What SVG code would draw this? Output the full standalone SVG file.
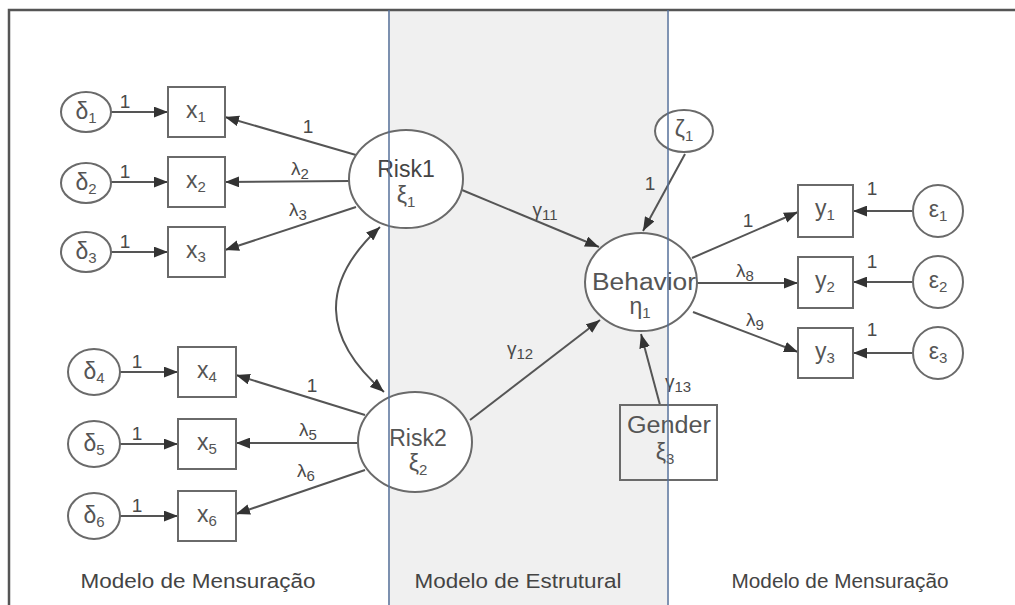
<svg xmlns="http://www.w3.org/2000/svg" width="1015" height="605" viewBox="0 0 1015 605">
<defs>
<style>
.n{fill:#fff;stroke:#6a6a6a;stroke-width:2}
.t{font-family:"Liberation Sans",Arial,sans-serif;fill:#555;font-size:23px;text-anchor:middle}
.l{font-family:"Liberation Sans",Arial,sans-serif;fill:#4a4a4a;font-size:19px;text-anchor:middle}
.b{font-family:"Liberation Sans",Arial,sans-serif;fill:#444;font-size:20px;text-anchor:middle}
.c line,.c path{stroke:#555;stroke-width:2;fill:none}
.s{font-size:15px}
</style>
<marker id="ah" viewBox="0 0 13 10" refX="13" refY="5" markerWidth="14" markerHeight="11" markerUnits="userSpaceOnUse" orient="auto-start-reverse">
<path d="M0,0 L13,5 L0,10 Z" fill="#333"/>
</marker>
</defs>
<rect width="1015" height="605" fill="#fff"/>
<rect x="388" y="11" width="279" height="594" fill="#f0f0f0"/>
<path d="M9,605 V10 H1015" fill="none" stroke="#555" stroke-width="2.5"/>

<g class="c">
<line x1="111" y1="112" x2="168" y2="112" marker-end="url(#ah)"/>
<line x1="111" y1="182" x2="168" y2="182" marker-end="url(#ah)"/>
<line x1="111" y1="252" x2="168" y2="252" marker-end="url(#ah)"/>
<line x1="120" y1="372" x2="178" y2="372" marker-end="url(#ah)"/>
<line x1="120" y1="444" x2="178" y2="444" marker-end="url(#ah)"/>
<line x1="120" y1="516" x2="178" y2="516" marker-end="url(#ah)"/>
<line x1="356" y1="155" x2="225" y2="117" marker-end="url(#ah)"/>
<line x1="350" y1="181" x2="225" y2="182" marker-end="url(#ah)"/>
<line x1="356" y1="207" x2="225" y2="250" marker-end="url(#ah)"/>
<line x1="365" y1="415" x2="236" y2="375" marker-end="url(#ah)"/>
<line x1="358" y1="443" x2="236" y2="443" marker-end="url(#ah)"/>
<line x1="365" y1="470" x2="236" y2="514" marker-end="url(#ah)"/>
<path d="M384,392 Q290,310 380,227" marker-start="url(#ah)" marker-end="url(#ah)"/>
<line x1="462" y1="190" x2="599" y2="247" marker-end="url(#ah)"/>
<line x1="470" y1="420" x2="600" y2="320" marker-end="url(#ah)"/>
<line x1="685" y1="154" x2="643" y2="231" marker-end="url(#ah)"/>
<line x1="660" y1="405" x2="641" y2="334" marker-end="url(#ah)"/>
<line x1="692" y1="258" x2="798" y2="212" marker-end="url(#ah)"/>
<line x1="697" y1="283" x2="798" y2="283" marker-end="url(#ah)"/>
<line x1="693" y1="312" x2="798" y2="352" marker-end="url(#ah)"/>
<line x1="912" y1="211" x2="853" y2="211" marker-end="url(#ah)"/>
<line x1="912" y1="282" x2="853" y2="282" marker-end="url(#ah)"/>
<line x1="912" y1="353" x2="853" y2="353" marker-end="url(#ah)"/>
</g>

<g class="l">
<text x="125" y="108">1</text>
<text x="125" y="178">1</text>
<text x="125" y="248">1</text>
<text x="137" y="368">1</text>
<text x="137" y="440">1</text>
<text x="137" y="512">1</text>
<text x="308" y="133">1</text>
<text x="300" y="175">λ<tspan class="s" dy="4">2</tspan></text>
<text x="298" y="216">λ<tspan class="s" dy="4">3</tspan></text>
<text x="312" y="392">1</text>
<text x="308" y="436">λ<tspan class="s" dy="4">5</tspan></text>
<text x="306" y="477">λ<tspan class="s" dy="4">6</tspan></text>
<text x="545" y="216">γ<tspan class="s" dy="4">11</tspan></text>
<text x="520" y="355">γ<tspan class="s" dy="4">12</tspan></text>
<text x="650" y="190">1</text>
<text x="678" y="388">γ<tspan class="s" dy="4">13</tspan></text>
<text x="748" y="227">1</text>
<text x="745" y="277">λ<tspan class="s" dy="4">8</tspan></text>
<text x="755" y="326">λ<tspan class="s" dy="4">9</tspan></text>
<text x="872" y="195">1</text>
<text x="872" y="268">1</text>
<text x="872" y="336">1</text>
</g>

<g id="delta1"><ellipse class="n" cx="86" cy="112" rx="25" ry="20"/><text class="t" x="86" y="119">δ<tspan class="s" dy="4">1</tspan></text></g>
<g id="delta2"><ellipse class="n" cx="86" cy="183" rx="25" ry="20"/><text class="t" x="86" y="190">δ<tspan class="s" dy="4">2</tspan></text></g>
<g id="delta3"><ellipse class="n" cx="86" cy="252" rx="25" ry="20"/><text class="t" x="86" y="259">δ<tspan class="s" dy="4">3</tspan></text></g>
<g id="delta4"><ellipse class="n" cx="94" cy="372" rx="26" ry="23"/><text class="t" x="94" y="379">δ<tspan class="s" dy="4">4</tspan></text></g>
<g id="delta5"><ellipse class="n" cx="94" cy="444" rx="26" ry="23"/><text class="t" x="94" y="451">δ<tspan class="s" dy="4">5</tspan></text></g>
<g id="delta6"><ellipse class="n" cx="94" cy="516" rx="26" ry="23"/><text class="t" x="94" y="523">δ<tspan class="s" dy="4">6</tspan></text></g>

<g id="x1"><rect class="n" x="168" y="87" width="57" height="50"/><text class="t" x="196" y="118">x<tspan class="s" dy="4">1</tspan></text></g>
<g id="x2"><rect class="n" x="168" y="157" width="57" height="50"/><text class="t" x="196" y="188">x<tspan class="s" dy="4">2</tspan></text></g>
<g id="x3"><rect class="n" x="168" y="227" width="57" height="50"/><text class="t" x="196" y="258">x<tspan class="s" dy="4">3</tspan></text></g>
<g id="x4"><rect class="n" x="178" y="347" width="58" height="50"/><text class="t" x="207" y="378">x<tspan class="s" dy="4">4</tspan></text></g>
<g id="x5"><rect class="n" x="178" y="419" width="58" height="50"/><text class="t" x="207" y="450">x<tspan class="s" dy="4">5</tspan></text></g>
<g id="x6"><rect class="n" x="178" y="491" width="58" height="50"/><text class="t" x="207" y="522">x<tspan class="s" dy="4">6</tspan></text></g>

<g id="risk1"><ellipse class="n" cx="406" cy="179" rx="57" ry="49"/><text class="t" x="406" y="177" style="fill:#444">Risk1</text><text class="t" x="406" y="203">ξ<tspan class="s" dy="4">1</tspan></text></g>
<g id="risk2"><ellipse class="n" cx="415" cy="442" rx="57" ry="50"/><text class="t" x="418" y="446">Risk2</text><text class="t" x="418" y="471">ξ<tspan class="s" dy="4">2</tspan></text></g>
<g id="behavior"><ellipse class="n" cx="641" cy="282" rx="56" ry="49"/><text class="t" x="644" y="290" textLength="104" lengthAdjust="spacingAndGlyphs">Behavior</text><text class="t" x="640" y="314">η<tspan class="s" dy="4">1</tspan></text></g>
<g id="zeta1"><ellipse class="n" cx="684" cy="131" rx="29" ry="21"/><text class="t" x="684" y="137">ζ<tspan class="s" dy="4">1</tspan></text></g>
<g id="gender"><rect x="620" y="405" width="97" height="75" fill="none" stroke="#6a6a6a" stroke-width="2"/><text class="t" x="669" y="433" textLength="84" lengthAdjust="spacingAndGlyphs">Gender</text><text class="t" x="665" y="460">ξ<tspan class="s" dy="4">3</tspan></text></g>

<g id="y1"><rect class="n" x="798" y="185" width="55" height="52"/><text class="t" x="825" y="216">y<tspan class="s" dy="4">1</tspan></text></g>
<g id="y2"><rect class="n" x="798" y="257" width="55" height="51"/><text class="t" x="825" y="288">y<tspan class="s" dy="4">2</tspan></text></g>
<g id="y3"><rect class="n" x="798" y="328" width="55" height="50"/><text class="t" x="825" y="359">y<tspan class="s" dy="4">3</tspan></text></g>
<g id="eps1"><ellipse class="n" cx="938" cy="211" rx="25" ry="26"/><text class="t" x="938" y="217">ε<tspan class="s" dy="4">1</tspan></text></g>
<g id="eps2"><ellipse class="n" cx="938" cy="282" rx="25" ry="26"/><text class="t" x="938" y="288">ε<tspan class="s" dy="4">2</tspan></text></g>
<g id="eps3"><ellipse class="n" cx="938" cy="353" rx="25" ry="26"/><text class="t" x="938" y="359">ε<tspan class="s" dy="4">3</tspan></text></g>

<line x1="389" y1="10" x2="389" y2="605" stroke="#56709a" stroke-width="1.5"/>
<line x1="668" y1="10" x2="668" y2="605" stroke="#56709a" stroke-width="1.5"/>

<g id="section-labels">
<text class="b" x="198" y="588" textLength="235" lengthAdjust="spacingAndGlyphs">Modelo de Mensuração</text>
<text class="b" x="518" y="588" textLength="207" lengthAdjust="spacingAndGlyphs">Modelo de Estrutural</text>
<text class="b" x="840" y="588" textLength="217" lengthAdjust="spacingAndGlyphs">Modelo de Mensuração</text>
</g>
</svg>
